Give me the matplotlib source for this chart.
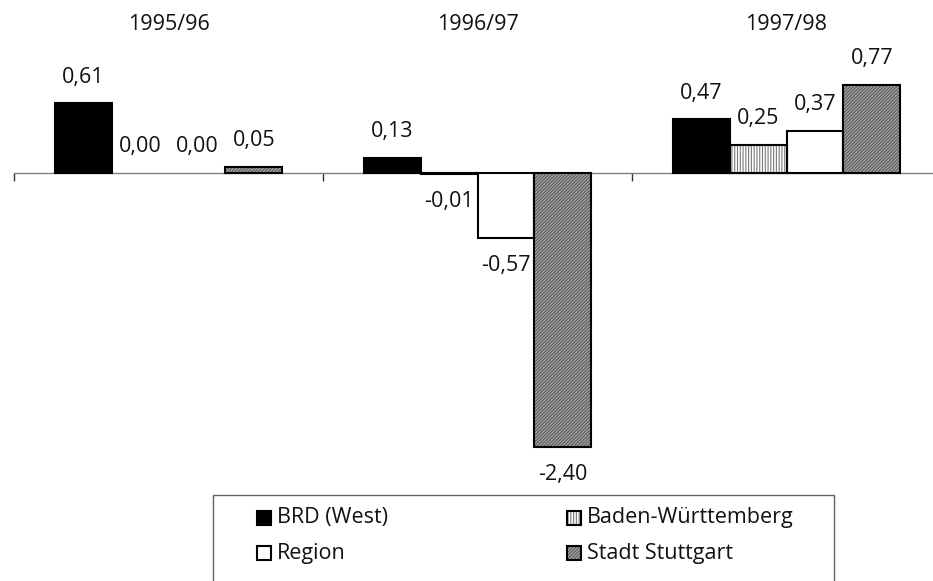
import matplotlib
matplotlib.use("Agg")
import matplotlib.pyplot as plt
import matplotlib.transforms as mtransforms
from matplotlib.patches import Rectangle
import numpy as np

plt.rcParams["font.family"] = ["Open Sans", "DejaVu Sans"]
plt.rcParams["hatch.linewidth"] = 0.8

# ---- data -------------------------------------------------------------
periods = ["1995/96", "1996/97", "1997/98"]
series_names = ["BRD (West)", "Baden-Württemberg", "Region", "Stadt Stuttgart"]
brd_west = [0.61, 0.13, 0.47]
baden_wuerttemberg = [0.00, -0.01, 0.25]
region = [0.00, -0.57, 0.37]
stadt_stuttgart = [0.05, -2.40, 0.77]
series_values = [brd_west, baden_wuerttemberg, region, stadt_stuttgart]

# ---- styles -----------------------------------------------------------
styles = [
    dict(face="black", hatch=None, hatch_color="black"),
    dict(face="white", hatch="||||||", hatch_color="#7a7a7a"),
    dict(face="white", hatch=None, hatch_color="white"),
    dict(face="#a4a4a4", hatch="//////////", hatch_color="#5a5a5a"),
]
FS = 15.5
TEXT_COLOR = "#111111"

W, H = 933, 581
fig = plt.figure(figsize=(W / 100, H / 100), dpi=100)


def box(x0, y0, x1, y1):
    """pixel box (top-left origin) -> figure fraction rect"""
    return [x0 / W, 1 - y1 / H, (x1 - x0) / W, (y1 - y0) / H]


ax = fig.add_axes(box(14, 45, 941, 460))
PX_PER_UNIT = 114.0
ax.set_ylim(-(460 - 173) / PX_PER_UNIT, (173 - 45) / PX_PER_UNIT)
ax.set_xlim(-0.5, len(periods) - 0.5)

n = len(series_values)
bar_w = 0.184
x = np.arange(len(periods))

for k, (vals, st) in enumerate(zip(series_values, styles)):
    xs = x + (k - (n - 1) / 2) * bar_w
    lw = [0 if v == 0 else 1.5 for v in vals]
    ax.bar(xs, vals, bar_w, color=st["face"], hatch=st["hatch"],
           edgecolor=st["hatch_color"], linewidth=0, zorder=3)
    ax.bar(xs, vals, bar_w, fill=False, edgecolor="black",
           linewidth=lw, zorder=4)
    for xi, v in zip(xs, vals):
        label = f"{v:.2f}".replace(".", ",")
        dy = 19 if v >= 0 else -20
        ax.annotate(label, xy=(xi, v), xytext=(0, dy),
                    textcoords="offset points", ha="center", va="center",
                    fontsize=FS, color=TEXT_COLOR, zorder=5)

# zero line with category separators
for side in ["top", "left", "right"]:
    ax.spines[side].set_visible(False)
ax.spines["bottom"].set_position(("data", 0))
ax.spines["bottom"].set_color("#808080")
ax.spines["bottom"].set_linewidth(1.0)
ax.set_yticks([])
ax.set_xticks([])
ax.set_xticks(np.arange(len(periods) + 1) - 0.5, minor=True)
ax.tick_params(axis="x", which="minor", direction="out", length=6,
               width=1.0, color="#333333", bottom=True, labelbottom=False)

# period labels above the plot
trans = mtransforms.blended_transform_factory(ax.transData, fig.transFigure)
for xi, p in zip(x, periods):
    ax.text(xi, 1 - 25 / H, p, transform=trans, ha="center", va="center",
            fontsize=FS, color=TEXT_COLOR)

# ---- legend -----------------------------------------------------------
fig.add_artist(Rectangle((213 / W, 1 - 600 / H), (834 - 213) / W, (600 - 495) / H,
                         transform=fig.transFigure, facecolor="white",
                         edgecolor="#606060", linewidth=1.0))
entries = [(257, 518), (567, 518), (257, 553), (567, 553)]
for (mx, my), name, st in zip(entries, series_names, styles):
    sq = 14
    rect = box(mx, my - sq / 2, mx + sq, my + sq / 2)
    fig.add_artist(Rectangle((rect[0], rect[1]), rect[2], rect[3],
                             transform=fig.transFigure, facecolor=st["face"],
                             hatch=st["hatch"], edgecolor=st["hatch_color"],
                             linewidth=0))
    fig.add_artist(Rectangle((rect[0], rect[1]), rect[2], rect[3],
                             transform=fig.transFigure, fill=False,
                             edgecolor="black", linewidth=1.5))
    fig.text((mx + sq + 6) / W, 1 - my / H, name, ha="left", va="center",
             fontsize=FS, color=TEXT_COLOR)

fig.savefig("out.png", dpi=100)
